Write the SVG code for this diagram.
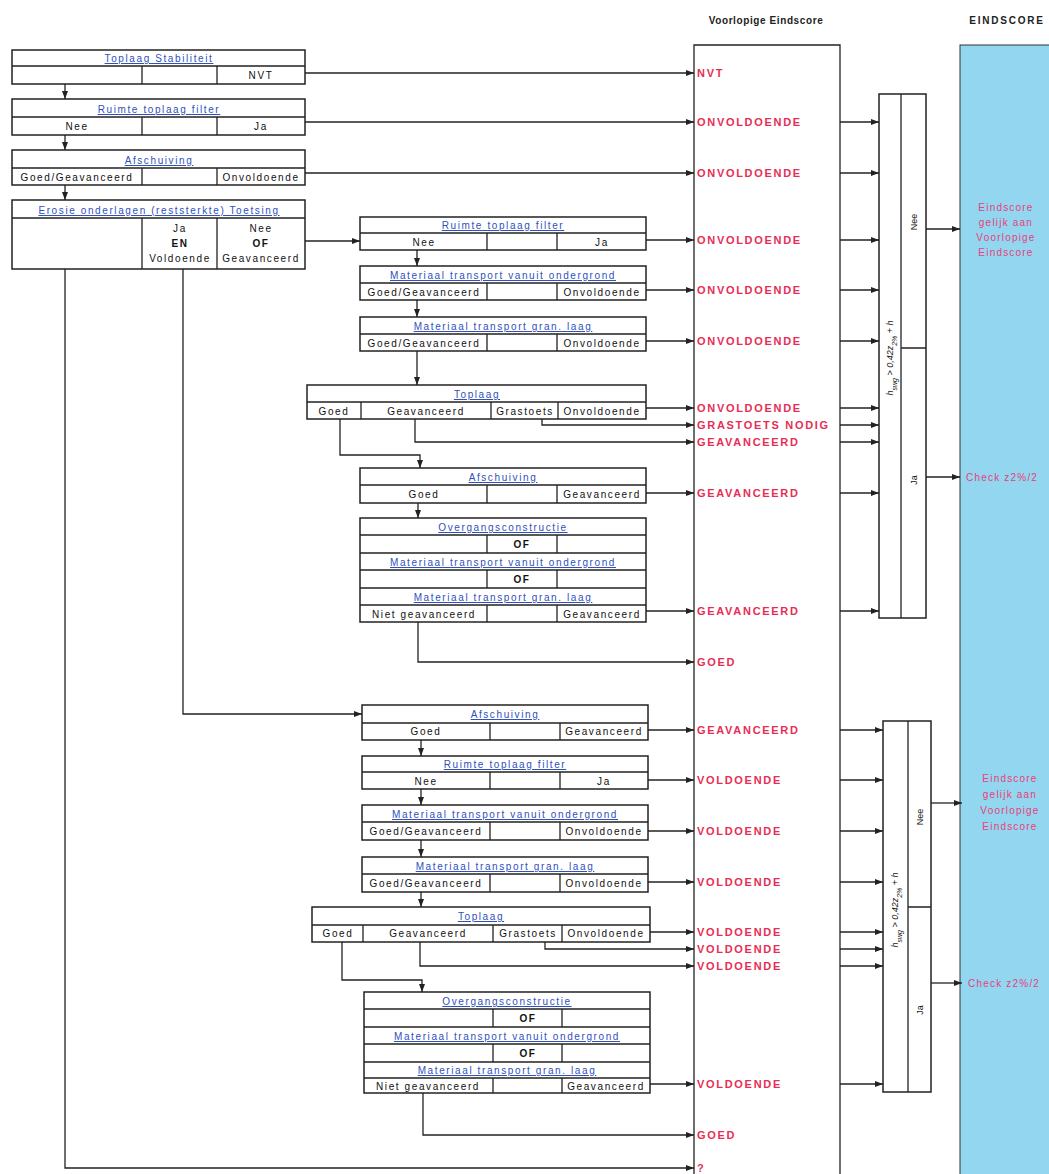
<svg xmlns="http://www.w3.org/2000/svg" width="1049" height="1174" viewBox="0 0 1049 1174">
<style>
text{font-family:"Liberation Sans",Arial,sans-serif}
.bx{fill:#fff;stroke:#222;stroke-width:1.5}
.dv{stroke:#222;stroke-width:1.3;fill:none}
.hd{fill:#2f50bd;font-size:10px;letter-spacing:1.6px;text-anchor:middle;text-decoration:underline}
.c{fill:#111;font-size:10px;letter-spacing:1.6px;text-anchor:middle}
.b{font-weight:bold}
.r{fill:#e62e55;font-size:11px;font-weight:bold;letter-spacing:1.7px}
.p{fill:#e8407a;font-size:10px;letter-spacing:1.2px;text-anchor:middle}
.k{fill:#e8407a;font-size:10px;letter-spacing:1.2px}
.ttl{fill:#222;font-size:10px;font-weight:bold;letter-spacing:0.6px;text-anchor:middle}
.v{fill:#111;font-size:9px;text-anchor:middle}
.cn{stroke:#222;stroke-width:1.3;fill:none;marker-end:url(#ah)}
</style>
<defs>
<marker id="ah" markerUnits="userSpaceOnUse" markerWidth="8" markerHeight="6" refX="8" refY="3" orient="auto"><path d="M0,0 L8,3 L0,6 z" fill="#222"/></marker>
</defs>
<rect width="1049" height="1174" fill="#fff"/>

<!-- headers -->
<text class="ttl" x="766" y="24">Voorlopige Eindscore</text>
<text class="ttl" x="1007" y="24" style="letter-spacing:1.8px">EINDSCORE</text>

<!-- EINDSCORE column -->
<g id="eindscore">
<rect x="960" y="45" width="95" height="1135" fill="#92d6f0" stroke="#333" stroke-width="1"/>
<text class="p" x="1006" y="211">Eindscore</text>
<text class="p" x="1006" y="226">gelijk aan</text>
<text class="p" x="1006" y="241">Voorlopige</text>
<text class="p" x="1006" y="256">Eindscore</text>
<text class="k" x="966" y="481">Check z2%/2</text>
<text class="p" x="1010" y="782">Eindscore</text>
<text class="p" x="1010" y="798">gelijk aan</text>
<text class="p" x="1010" y="814">Voorlopige</text>
<text class="p" x="1010" y="830">Eindscore</text>
<text class="k" x="968" y="987">Check z2%/2</text>
</g>

<!-- Voorlopige Eindscore column -->
<g id="voorlopig">
<path class="dv" d="M694,1180 V45 H840 V1180" stroke-width="1.5"/>
<text class="r" x="697" y="77">NVT</text>
<text class="r" x="697" y="126">ONVOLDOENDE</text>
<text class="r" x="697" y="177">ONVOLDOENDE</text>
<text class="r" x="697" y="244">ONVOLDOENDE</text>
<text class="r" x="697" y="294">ONVOLDOENDE</text>
<text class="r" x="697" y="345">ONVOLDOENDE</text>
<text class="r" x="697" y="412">ONVOLDOENDE</text>
<text class="r" x="697" y="429">GRASTOETS NODIG</text>
<text class="r" x="697" y="446">GEAVANCEERD</text>
<text class="r" x="697" y="497">GEAVANCEERD</text>
<text class="r" x="697" y="615">GEAVANCEERD</text>
<text class="r" x="697" y="666">GOED</text>
<text class="r" x="697" y="734">GEAVANCEERD</text>
<text class="r" x="697" y="784">VOLDOENDE</text>
<text class="r" x="697" y="835">VOLDOENDE</text>
<text class="r" x="697" y="886">VOLDOENDE</text>
<text class="r" x="697" y="936">VOLDOENDE</text>
<text class="r" x="697" y="953">VOLDOENDE</text>
<text class="r" x="697" y="970">VOLDOENDE</text>
<text class="r" x="697" y="1088">VOLDOENDE</text>
<text class="r" x="697" y="1139">GOED</text>
<text class="r" x="697" y="1172">?</text>
</g>

<!-- decision boxes -->
<g id="beslis1">
<rect class="bx" x="879" y="94" width="47" height="524"/>
<path class="dv" d="M901,94 V618 M901,348 H926"/>
<text class="v" transform="translate(893,358) rotate(-90)" font-style="italic">h<tspan baseline-shift="sub" font-size="7">swg</tspan> &gt; 0,42z<tspan baseline-shift="sub" font-size="7">2%</tspan> + h</text>
<text class="v" transform="translate(917,222) rotate(-90)">Nee</text>
<text class="v" transform="translate(917,480) rotate(-90)">Ja</text>
</g>
<g id="beslis2">
<rect class="bx" x="883" y="721" width="48" height="371"/>
<path class="dv" d="M908,721 V1092 M908,907 H931"/>
<text class="v" transform="translate(898,910) rotate(-90)" font-style="italic">h<tspan baseline-shift="sub" font-size="7">swg</tspan> &gt; 0,42z<tspan baseline-shift="sub" font-size="7">2%</tspan> + h</text>
<text class="v" transform="translate(923,817) rotate(-90)">Nee</text>
<text class="v" transform="translate(923,1010) rotate(-90)">Ja</text>
</g>

<!-- left column -->
<g id="b1">
<rect class="bx" x="12" y="50" width="293" height="34"/>
<path class="dv" d="M12,66 H305 M142,66 V84 M217,66 V84"/>
<text class="hd" x="159" y="62">Toplaag Stabiliteit</text>
<text class="c" x="261" y="79">NVT</text>
</g>
<g id="b2">
<rect class="bx" x="12" y="99" width="293" height="36"/>
<path class="dv" d="M12,117 H305 M142,117 V135 M217,117 V135"/>
<text class="hd" x="159" y="113">Ruimte toplaag filter</text>
<text class="c" x="77" y="130">Nee</text>
<text class="c" x="261" y="130">Ja</text>
</g>
<g id="b3">
<rect class="bx" x="12" y="150" width="293" height="35"/>
<path class="dv" d="M12,168 H305 M142,168 V185 M217,168 V185"/>
<text class="hd" x="159" y="164">Afschuiving</text>
<text class="c" x="77" y="181">Goed/Geavanceerd</text>
<text class="c" x="261" y="181">Onvoldoende</text>
</g>
<g id="b4">
<rect class="bx" x="12" y="200" width="293" height="69"/>
<path class="dv" d="M12,218 H305 M142,218 V269 M217,218 V269"/>
<text class="hd" x="159" y="214">Erosie onderlagen (reststerkte) Toetsing</text>
<text class="c" x="180" y="232">Ja</text>
<text class="c b" x="180" y="247">EN</text>
<text class="c" x="180" y="262">Voldoende</text>
<text class="c" x="261" y="232">Nee</text>
<text class="c b" x="261" y="247">OF</text>
<text class="c" x="261" y="262">Geavanceerd</text>
</g>

<!-- middle group 1 -->
<g id="m1">
<rect class="bx" x="360" y="217" width="286" height="33"/>
<path class="dv" d="M360,233 H646 M487,233 V250 M557,233 V250"/>
<text class="hd" x="503" y="229">Ruimte toplaag filter</text>
<text class="c" x="424" y="246">Nee</text>
<text class="c" x="602" y="246">Ja</text>
</g>
<g id="m2">
<rect class="bx" x="360" y="266" width="286" height="34"/>
<path class="dv" d="M360,283 H646 M487,283 V300 M557,283 V300"/>
<text class="hd" x="503" y="279">Materiaal transport vanuit ondergrond</text>
<text class="c" x="424" y="296">Goed/Geavanceerd</text>
<text class="c" x="602" y="296">Onvoldoende</text>
</g>
<g id="m3">
<rect class="bx" x="360" y="317" width="286" height="34"/>
<path class="dv" d="M360,334 H646 M487,334 V351 M557,334 V351"/>
<text class="hd" x="503" y="330">Materiaal transport gran. laag</text>
<text class="c" x="424" y="347">Goed/Geavanceerd</text>
<text class="c" x="602" y="347">Onvoldoende</text>
</g>
<g id="m4">
<rect class="bx" x="307" y="385" width="339" height="34"/>
<path class="dv" d="M307,402 H646 M361,402 V419 M491,402 V419 M558,402 V419"/>
<text class="hd" x="477" y="398">Toplaag</text>
<text class="c" x="334" y="415">Goed</text>
<text class="c" x="426" y="415">Geavanceerd</text>
<text class="c" x="525" y="415">Grastoets</text>
<text class="c" x="602" y="415">Onvoldoende</text>
</g>
<g id="m5">
<rect class="bx" x="360" y="468" width="286" height="35"/>
<path class="dv" d="M360,485 H646 M487,485 V503 M557,485 V503"/>
<text class="hd" x="503" y="481">Afschuiving</text>
<text class="c" x="424" y="498">Goed</text>
<text class="c" x="602" y="498">Geavanceerd</text>
</g>
<g id="m6">
<rect class="bx" x="360" y="518" width="286" height="104"/>
<path class="dv" d="M360,535 H646 M360,553 H646 M360,570 H646 M360,588 H646 M360,605 H646 M487,535 V553 M557,535 V553 M487,570 V588 M557,570 V588 M487,605 V622 M557,605 V622"/>
<text class="hd" x="503" y="531">Overgangsconstructie</text>
<text class="c b" x="522" y="548">OF</text>
<text class="hd" x="503" y="566">Materiaal transport vanuit ondergrond</text>
<text class="c b" x="522" y="583">OF</text>
<text class="hd" x="503" y="601">Materiaal transport gran. laag</text>
<text class="c" x="424" y="618">Niet geavanceerd</text>
<text class="c" x="602" y="618">Geavanceerd</text>
</g>

<!-- middle group 2 -->
<g id="n1">
<rect class="bx" x="362" y="705" width="286" height="35"/>
<path class="dv" d="M362,723 H648 M490,723 V740 M560,723 V740"/>
<text class="hd" x="505" y="718">Afschuiving</text>
<text class="c" x="426" y="735">Goed</text>
<text class="c" x="604" y="735">Geavanceerd</text>
</g>
<g id="n2">
<rect class="bx" x="362" y="756" width="286" height="33"/>
<path class="dv" d="M362,772 H648 M490,772 V789 M560,772 V789"/>
<text class="hd" x="505" y="768">Ruimte toplaag filter</text>
<text class="c" x="426" y="785">Nee</text>
<text class="c" x="604" y="785">Ja</text>
</g>
<g id="n3">
<rect class="bx" x="362" y="805" width="286" height="35"/>
<path class="dv" d="M362,822 H648 M490,822 V840 M560,822 V840"/>
<text class="hd" x="505" y="818">Materiaal transport vanuit ondergrond</text>
<text class="c" x="426" y="835">Goed/Geavanceerd</text>
<text class="c" x="604" y="835">Onvoldoende</text>
</g>
<g id="n4">
<rect class="bx" x="362" y="857" width="286" height="35"/>
<path class="dv" d="M362,874 H648 M490,874 V892 M560,874 V892"/>
<text class="hd" x="505" y="870">Materiaal transport gran. laag</text>
<text class="c" x="426" y="887">Goed/Geavanceerd</text>
<text class="c" x="604" y="887">Onvoldoende</text>
</g>
<g id="n5">
<rect class="bx" x="312" y="907" width="338" height="35"/>
<path class="dv" d="M312,925 H650 M363,925 V942 M493,925 V942 M562,925 V942"/>
<text class="hd" x="481" y="920">Toplaag</text>
<text class="c" x="338" y="937">Goed</text>
<text class="c" x="428" y="937">Geavanceerd</text>
<text class="c" x="528" y="937">Grastoets</text>
<text class="c" x="606" y="937">Onvoldoende</text>
</g>
<g id="n6">
<rect class="bx" x="364" y="992" width="286" height="101"/>
<path class="dv" d="M364,1009 H650 M364,1027 H650 M364,1044 H650 M364,1062 H650 M364,1078 H650 M493,1009 V1027 M562,1009 V1027 M493,1044 V1062 M562,1044 V1062 M493,1078 V1093 M562,1078 V1093"/>
<text class="hd" x="507" y="1005">Overgangsconstructie</text>
<text class="c b" x="528" y="1022">OF</text>
<text class="hd" x="507" y="1040">Materiaal transport vanuit ondergrond</text>
<text class="c b" x="528" y="1057">OF</text>
<text class="hd" x="507" y="1074">Materiaal transport gran. laag</text>
<text class="c" x="428" y="1090">Niet geavanceerd</text>
<text class="c" x="606" y="1090">Geavanceerd</text>
</g>

<!-- connectors -->
<g id="connectors">
<path class="cn" d="M65,84 V99"/>
<path class="cn" d="M65,135 V150"/>
<path class="cn" d="M65,185 V200"/>
<path class="cn" d="M305,73 H694"/>
<path class="cn" d="M305,122 H694"/>
<path class="cn" d="M305,173 H694"/>
<path class="cn" d="M305,241 H360"/>
<path class="cn" d="M65,269 V1168 H694"/>
<path class="cn" d="M183,269 V714 H362"/>

<path class="cn" d="M646,240 H694"/>
<path class="cn" d="M417,250 V266"/>
<path class="cn" d="M646,290 H694"/>
<path class="cn" d="M417,300 V317"/>
<path class="cn" d="M646,341 H694"/>
<path class="cn" d="M417,351 V385"/>
<path class="cn" d="M646,408 H694"/>
<path class="cn" d="M542,419 V425 H694"/>
<path class="cn" d="M415,419 V442 H694"/>
<path class="cn" d="M340,419 V455 H420 V468"/>
<path class="cn" d="M646,493 H694"/>
<path class="cn" d="M418,503 V518"/>
<path class="cn" d="M646,611 H694"/>
<path class="cn" d="M418,622 V662 H694"/>

<path class="cn" d="M648,730 H694"/>
<path class="cn" d="M421,740 V756"/>
<path class="cn" d="M648,780 H694"/>
<path class="cn" d="M421,789 V805"/>
<path class="cn" d="M648,831 H694"/>
<path class="cn" d="M421,840 V857"/>
<path class="cn" d="M648,882 H694"/>
<path class="cn" d="M421,892 V907"/>
<path class="cn" d="M650,932 H694"/>
<path class="cn" d="M545,942 V949 H694"/>
<path class="cn" d="M420,942 V966 H694"/>
<path class="cn" d="M342,942 V980 H422 V992"/>
<path class="cn" d="M650,1084 H694"/>
<path class="cn" d="M423,1093 V1135 H694"/>

<path class="cn" d="M840,122 H879"/>
<path class="cn" d="M840,173 H879"/>
<path class="cn" d="M840,240 H879"/>
<path class="cn" d="M840,290 H879"/>
<path class="cn" d="M840,341 H879"/>
<path class="cn" d="M840,408 H879"/>
<path class="cn" d="M840,425 H879"/>
<path class="cn" d="M840,442 H879"/>
<path class="cn" d="M840,493 H879"/>
<path class="cn" d="M840,611 H879"/>
<path class="cn" d="M840,730 H883"/>
<path class="cn" d="M840,780 H883"/>
<path class="cn" d="M840,831 H883"/>
<path class="cn" d="M840,882 H883"/>
<path class="cn" d="M840,932 H883"/>
<path class="cn" d="M840,949 H883"/>
<path class="cn" d="M840,966 H883"/>
<path class="cn" d="M840,1084 H883"/>

<path class="cn" d="M926,229 H960"/>
<path class="cn" d="M926,477 H960"/>
<path class="cn" d="M931,803 H962"/>
<path class="cn" d="M931,983 H962"/>
</g>
</svg>
